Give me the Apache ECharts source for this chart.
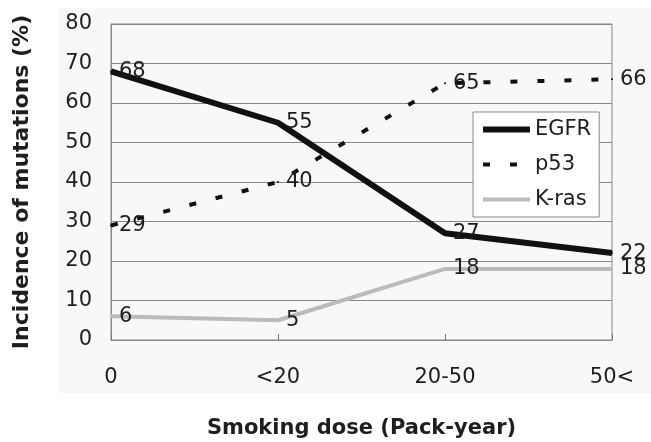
<!DOCTYPE html>
<html>
<head>
<meta charset="utf-8">
<script src="https://cdn.jsdelivr.net/npm/echarts@6/dist/echarts.min.js"></script>
<style>
  html, body { margin: 0; padding: 0; background: #ffffff; }
  #chart { width: 651px; height: 442px; }
</style>
</head>
<body>
<div id="chart"></div>
<script>
// Smoking dose categories (pack-years)
const categories = ['0', '<20', '20-50', '50<'];
// Mutation incidence (%) per gene
const egfr = [68, 55, 27, 22];
const p53 = [29, 40, 65, 66];
const kras = [6, 5, 18, 18];
// Y axis range
const yMin = 0;
const yMax = 80;
const yStep = 10;

const chart = echarts.init(document.getElementById('chart'), null, { renderer: 'canvas' });

const FONT = 'DejaVu Sans';
const TEXT = '#1e1e1e';

const labelStyle = {
  show: true,
  position: 'right',
  distance: 7,
  color: TEXT,
  fontFamily: FONT,
  fontSize: 21
};

chart.setOption({
  animation: false,
  backgroundColor: '#ffffff',
  graphic: [{
    type: 'rect',
    z: -10,
    shape: { x: 58, y: 8, width: 593, height: 385 },
    style: { fill: '#f8f8f8' }
  }],
  grid: {
    left: 111, right: 39, top: 24, bottom: 102,
    containLabel: false,
    outerBoundsMode: 'none',
    show: true, borderColor: '#888', borderWidth: 1, backgroundColor: 'transparent'
  },
  legend: {
    orient: 'vertical',
    left: 473, top: 112,
    padding: [7, 8, 7, 7],
    itemWidth: 47, itemHeight: 20, itemGap: 14,
    backgroundColor: '#ffffff',
    borderColor: '#888', borderWidth: 1,
    itemStyle: { opacity: 0 },
    lineStyle: { width: 'inherit' },
    textStyle: { fontFamily: FONT, fontSize: 21, color: TEXT, lineHeight: 20 },
    data: ['EGFR', 'p53', 'K-ras']
  },
  xAxis: {
    type: 'category',
    data: categories,
    boundaryGap: false,
    name: 'Smoking dose (Pack-year)',
    nameLocation: 'middle',
    nameGap: 78,
    nameTextStyle: { fontFamily: FONT, fontWeight: 'bold', fontSize: 21, color: TEXT },
    axisLine: { lineStyle: { color: '#888', width: 1 } },
    axisTick: { inside: true, length: 6, lineStyle: { color: '#777' } },
    axisLabel: { margin: 27, fontFamily: FONT, fontSize: 21, color: TEXT },
    splitLine: { show: false }
  },
  yAxis: {
    type: 'value',
    min: yMin, max: yMax, interval: yStep,
    name: 'Incidence of mutations (%)',
    nameLocation: 'middle',
    nameGap: 78,
    nameTextStyle: { fontFamily: FONT, fontWeight: 'bold', fontSize: 22, color: TEXT },
    axisLine: { show: true, lineStyle: { color: '#888', width: 1 } },
    axisTick: { show: false },
    axisLabel: { margin: 19, fontFamily: FONT, fontSize: 21, color: TEXT },
    splitLine: { lineStyle: { color: '#888', width: 1 } }
  },
  series: [
    {
      name: 'EGFR', type: 'line', data: egfr,
      symbol: 'circle', symbolSize: 2, z: 4,
      lineStyle: { color: '#111', width: 6, join: 'round' },
      itemStyle: { color: '#111' },
      label: labelStyle
    },
    {
      name: 'p53', type: 'line', data: p53,
      symbol: 'circle', symbolSize: 2, z: 3,
      lineStyle: { color: '#111', width: 4, type: [7, 20] },
      itemStyle: { color: '#111' },
      label: labelStyle
    },
    {
      name: 'K-ras', type: 'line', data: kras,
      symbol: 'circle', symbolSize: 2, z: 2,
      lineStyle: { color: '#bbbbbb', width: 4, join: 'round' },
      itemStyle: { color: '#bbbbbb' },
      label: labelStyle
    }
  ]
});
</script>
</body>
</html>
